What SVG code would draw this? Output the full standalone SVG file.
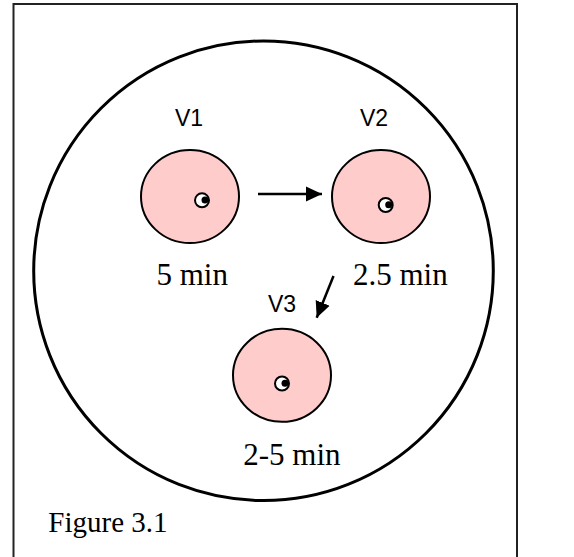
<svg xmlns="http://www.w3.org/2000/svg" width="574" height="557" viewBox="0 0 574 557">
<defs>
<style>
.vessel{fill:#FFCCCC;stroke:#000;stroke-width:2}
.eye{fill:#fff;stroke:#000;stroke-width:2}
.pupil{fill:#000}
.vlab{font-family:"Liberation Sans",Arial,sans-serif;font-size:23px;fill:#000}
.tlab{font-family:"Liberation Serif","Times New Roman",serif;font-size:31px;fill:#000}
.conn{stroke:#000;stroke-width:2.5;fill:none}
</style>
<marker id="ah" markerUnits="userSpaceOnUse" markerWidth="17" markerHeight="16" viewBox="0 0 17 16" refX="16" refY="8" orient="auto">
<path d="M0,0.5 L16,8 L0,15.5 Z" fill="#000"/>
</marker>
</defs>
<rect x="0" y="0" width="574" height="557" fill="#fff"/>
<rect x="13.5" y="4" width="503.5" height="600" fill="none" stroke="#222" stroke-width="2"/>
<circle cx="263.5" cy="270.8" r="229.8" fill="none" stroke="#000" stroke-width="3"/>
<g id="V1">
<ellipse class="vessel" cx="190" cy="196.5" rx="49" ry="46.5"/>
<circle class="eye" cx="202" cy="200.3" r="7"/>
<circle class="pupil" cx="205" cy="200" r="3.5"/>
<text class="vlab" x="175" y="126">V1</text>
<text class="tlab" x="156.5" y="285">5 min</text>
</g>
<g id="V2">
<ellipse class="vessel" cx="381" cy="196.5" rx="49" ry="46.5"/>
<circle class="eye" cx="385.7" cy="205" r="7"/>
<circle class="pupil" cx="388.7" cy="204.7" r="3.5"/>
<text class="vlab" x="360" y="126">V2</text>
<text class="tlab" x="353" y="285">2.5 min</text>
</g>
<g id="V3">
<ellipse class="vessel" cx="282" cy="375.3" rx="49" ry="46.5"/>
<circle class="eye" cx="282" cy="383.5" r="7"/>
<circle class="pupil" cx="285" cy="383.2" r="3.5"/>
<text class="vlab" x="268" y="312">V3</text>
<text class="tlab" x="243.3" y="465">2-5 min</text>
</g>
<g id="connectors">
<line class="conn" x1="258" y1="194" x2="322" y2="194" marker-end="url(#ah)"/>
<line class="conn" x1="333.5" y1="276" x2="316.7" y2="317.7" marker-end="url(#ah)"/>
</g>
<text class="tlab" x="48.3" y="531.7" style="font-size:29px">Figure 3.1</text>
</svg>
